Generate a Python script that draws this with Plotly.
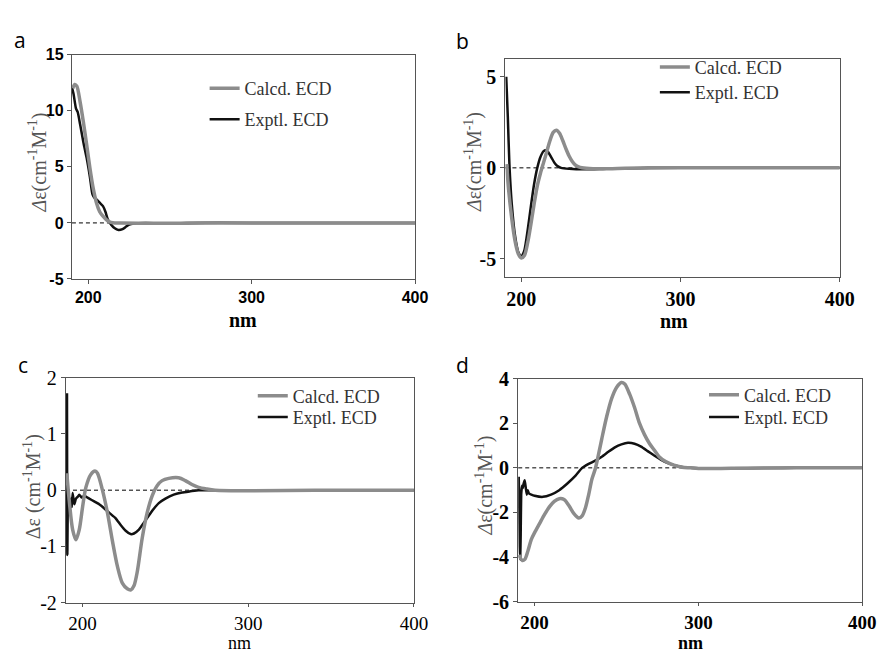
import plotly.graph_objects as go

# Panel a
a_calc_x = [190.5, 191.7, 193, 195, 197, 199, 201, 203, 205, 207, 209, 211, 213, 215, 220, 240, 260, 280, 320, 360, 400]
a_calc_y = [12.0, 12.35, 12.2, 10.8, 9.0, 7.0, 4.9, 3.1, 1.8, 1.0, 0.6, 0.3, 0.1, 0.02, 0.0, -0.03, -0.02, 0.0, 0.0, 0.0, 0.0]
a_exp_x = [190, 191, 192.5, 193.5, 195, 197, 199, 201, 202.5, 203.5, 205, 207, 209, 210.5, 212, 214, 216, 218.5, 221, 223, 225, 228, 235, 250, 260, 300, 350, 400]
a_exp_y = [12.1, 11.5, 10.2, 9.9, 8.8, 7.2, 5.8, 4.1, 2.6, 2.3, 2.1, 1.8, 1.5, 1.0, 0.3, -0.15, -0.45, -0.63, -0.55, -0.35, -0.15, -0.05, 0.0, -0.05, 0.0, 0.0, 0.0, 0.0]

# Panel b
b_calc_x = [190.8, 192, 194, 196, 198, 200, 202, 204, 206, 208, 210, 212, 214, 216, 218, 220, 222, 224, 226, 228, 230, 232, 234, 236, 238, 245, 255, 265, 280, 320, 360, 400]
b_calc_y = [0.2, -1.2, -2.8, -4.0, -4.7, -4.95, -4.8, -4.1, -3.1, -2.0, -1.0, -0.3, 0.3, 0.9, 1.5, 1.95, 2.07, 1.9, 1.5, 1.05, 0.65, 0.35, 0.15, 0.05, 0.0, -0.05, -0.05, -0.02, 0.0, 0.0, 0.0, 0.0]
b_exp_x = [190.5, 191.5, 192.5, 194, 196, 198, 200, 202, 204, 206, 208, 210, 212, 214, 215.5, 217, 219, 221, 223, 225, 230, 240, 250, 260, 300, 350, 400]
b_exp_y = [5.0, 2.8, 0.2, -2.0, -3.7, -4.6, -4.9, -4.5, -3.4, -2.1, -0.9, 0.0, 0.6, 0.92, 0.96, 0.85, 0.55, 0.25, 0.08, 0.0, -0.05, -0.08, -0.06, -0.03, 0.0, 0.0, 0.0]

# Panel c
c_calc_x = [190.5, 192, 194, 196, 198, 200, 202, 205, 207.5, 209, 212, 215, 218, 221, 224, 227, 229.2, 231, 233, 236, 239, 242, 245, 248, 252, 258, 262, 266, 270, 275, 280, 300, 340, 400]
c_calc_y = [0.3, -0.2, -0.7, -0.88, -0.7, -0.3, 0.05, 0.28, 0.34, 0.3, 0.0, -0.4, -0.9, -1.35, -1.65, -1.75, -1.77, -1.7, -1.45, -0.85, -0.4, -0.1, 0.08, 0.17, 0.21, 0.22, 0.17, 0.1, 0.05, 0.02, 0.0, -0.01, 0.0, 0.0]
c_exp_x = [190.6, 190.8, 191.2, 192, 193, 193.5, 194, 195, 196, 197, 198, 199.4, 201, 204, 207, 210, 213, 216, 220, 223, 226, 229, 231, 234, 237, 240, 243, 246, 250, 255, 260, 265, 270, 280, 300, 340, 400]
c_exp_y = [1.72, -1.15, 0.0, -0.25, -0.15, -0.3, -0.05, -0.25, -0.15, -0.12, -0.08, -0.13, -0.1, -0.15, -0.2, -0.25, -0.32, -0.4, -0.5, -0.62, -0.72, -0.78, -0.77, -0.7, -0.58, -0.45, -0.33, -0.23, -0.15, -0.08, -0.04, -0.02, 0.0, 0.0, 0.0, 0.0, 0.0]

# Panel d
d_calc_x = [190.4, 192.5, 194, 196, 198, 200, 203, 206, 209, 212, 215, 218, 221, 224, 227, 229, 231, 233, 235, 237, 239, 241, 244, 247, 250, 253, 255, 258, 261, 264, 267, 270, 273, 276, 280, 285, 290, 295, 300, 320, 340, 360, 400]
d_calc_y = [-3.9, -4.15, -4.1, -3.7, -3.2, -2.9, -2.5, -2.1, -1.75, -1.5, -1.38, -1.42, -1.7, -2.05, -2.25, -2.15, -1.8, -1.2, -0.5, -0.05, 0.6, 1.3, 2.3, 3.1, 3.6, 3.82, 3.75, 3.3, 2.7, 2.0, 1.5, 1.1, 0.8, 0.5, 0.28, 0.12, 0.03, 0.0, -0.03, -0.02, -0.01, 0.0, 0.0]
d_exp_x = [190.3, 190.6, 190.9, 191.2, 191.5, 191.8, 192.3, 192.8, 193.3, 194, 194.6, 195.2, 195.8, 196.5, 198, 200, 205, 210, 215, 220, 225, 229, 233, 237, 241, 245, 249, 253, 257, 261, 265, 269, 273, 277, 281, 285, 290, 295, 300, 320, 360, 400]
d_exp_y = [-0.4, -1.5, -3.5, -4.1, -3.0, -1.2, -0.8, -0.9, -0.7, -0.55, -0.9, -1.2, -1.0, -1.15, -1.2, -1.25, -1.3, -1.2, -1.0, -0.7, -0.35, 0.0, 0.18, 0.32, 0.5, 0.72, 0.92, 1.05, 1.12, 1.08, 0.95, 0.75, 0.55, 0.37, 0.22, 0.12, 0.04, 0.0, -0.02, -0.02, 0.0, 0.0]

x_ticks = [200, 300, 400]
a_yticks = [-5, 0, 5, 10, 15]
b_yticks = [-5, 0, 5]
c_yticks = [-2, -1, 0, 1, 2]
d_yticks = [-6, -4, -2, 0, 2, 4]

serif = 'Liberation Serif'
sans = 'Liberation Sans'

panels = [
    dict(letter='a', calc=(a_calc_x, a_calc_y), exp=(a_exp_x, a_exp_y), yr=[-5, 15], yt=a_yticks,
         dx=[0.0734, 0.4673], dy=[0.5906, 0.9437],
         tf=dict(family=sans, size=16, color='black'), xtf=16, xtl=4, bold=True, espline=0.6,
         yt_title='<i>Δ</i>ε(cm<sup>-1</sup>M<sup>-1</sup>)', ytpos=(30, 148), xtpos=(239, 311, 20),
         lab=(12, 22), leg=(200, 72, 32)),
    dict(letter='b', calc=(b_calc_x, b_calc_y), exp=(b_exp_x, b_exp_y), yr=[-6, 6], yt=b_yticks,
         dx=[0.5711, 0.9549], dy=[0.5936, 0.9376],
         tf=dict(family=serif, size=20, color='black'), xtf=20, xtl=4, bold=True, espline=0.6,
         yt_title='<i>Δ</i>ε(cm<sup>-1</sup>M<sup>-1</sup>)', ytpos=(473, 148), xtpos=(677, 312, 20),
         lab=(462, 23), leg=(658, 50, 26)),
    dict(letter='c', calc=(c_calc_x, c_calc_y), exp=(c_exp_x, c_exp_y), yr=[-2, 2], yt=c_yticks,
         dx=[0.0666, 0.4661], dy=[0.0807, 0.4353],
         tf=dict(family=serif, size=20, color='black'), xtf=19, xtl=3, bold=False, espline=0.3,
         yt_title='Δε (cm<sup>-1</sup>M<sup>-1</sup>)', ytpos=(25, 484), xtpos=(235, 646, 18),
         lab=(15, 358), leg=(249, 390, 22)),
    dict(letter='d', calc=(d_calc_x, d_calc_y), exp=(d_exp_x, d_exp_y), yr=[-6, 4], yt=d_yticks,
         dx=[0.5858, 0.9808], dy=[0.0822, 0.4338],
         tf=dict(family=serif, size=20, color='black'), xtf=19, xtl=3, bold=True, espline=0.3,
         yt_title='<i>Δ</i>ε(cm<sup>-1</sup>M<sup>-1</sup>)', ytpos=(485, 483), xtpos=(694, 646, 18),
         lab=(462, 358), leg=(708, 389, 23)),
]

W, H = 886, 657
fig = go.Figure()
layout = dict(width=W, height=H, margin=dict(l=0, r=0, t=0, b=0),
              paper_bgcolor='white', plot_bgcolor='white', showlegend=True,
              annotations=[], shapes=[])

leg_font = dict(family=serif, size=18, color='#333333')

for i, p in enumerate(panels):
    n = i + 1
    xa = 'x' if n == 1 else 'x%d' % n
    ya = 'y' if n == 1 else 'y%d' % n
    lg_e = 'legend' if n == 1 else 'legend%d' % (2 * n - 1)
    lg_c = 'legend%d' % (2 * n)

    # experimental first, calculated drawn on top
    fig.add_trace(go.Scatter(x=p['exp'][0], y=p['exp'][1], mode='lines', name='Exptl. ECD',
                             line=dict(color='#111111', width=2.5, shape='spline', smoothing=p['espline']),
                             xaxis=xa, yaxis=ya, legend=lg_e))
    fig.add_trace(go.Scatter(x=p['calc'][0], y=p['calc'][1], mode='lines', name='Calcd. ECD',
                             line=dict(color='#8c8c8c', width=3.5, shape='spline', smoothing=0.8),
                             xaxis=xa, yaxis=ya, legend=lg_c))

    lx, ly, gap = p['leg']
    for name, yy in ((lg_c, ly), (lg_e, ly + gap)):
        layout[name] = dict(x=lx / W, y=1 - yy / H, xanchor='left', yanchor='middle',
                            font=leg_font, bgcolor='rgba(0,0,0,0)', borderwidth=0,
                            itemwidth=30)

    tf = p['tf']
    fmt = (lambda v: '<b>%d</b>' % v) if p['bold'] else (lambda v: '%d' % v)
    xkey = 'xaxis' if n == 1 else 'xaxis%d' % n
    ykey = 'yaxis' if n == 1 else 'yaxis%d' % n
    layout[xkey] = dict(domain=p['dx'], anchor=ya, range=[190, 400],
                        tickvals=x_ticks, ticktext=[fmt(v) for v in x_ticks],
                        tickfont=dict(tf, size=p['xtf']), ticks='outside', ticklen=p['xtl'],
                        tickcolor='#555555',
                        showline=True, linecolor='#555555', linewidth=1.3, mirror=True,
                        showgrid=False, zeroline=False)
    layout[ykey] = dict(domain=p['dy'], anchor=xa, range=p['yr'],
                        tickvals=p['yt'], ticktext=[fmt(v) for v in p['yt']],
                        tickfont=tf, ticks='outside', ticklen=4, tickcolor='#555555',
                        showline=True, linecolor='#555555', linewidth=1.3, mirror=True,
                        showgrid=False, zeroline=False)

    # axis titles
    layout['annotations'].append(dict(text=p['yt_title'], textangle=-90,
                                      x=p['ytpos'][0] / W, y=1 - p['ytpos'][1] / H,
                                      xref='paper', yref='paper', xanchor='center', yanchor='middle',
                                      showarrow=False, font=dict(family=serif, size=20, color='#555555')))
    layout['annotations'].append(dict(text='<b>nm</b>' if p['bold'] else 'nm',
                                      x=p['xtpos'][0] / W, y=1 - p['xtpos'][1] / H,
                                      xref='paper', yref='paper', xanchor='center', yanchor='middle',
                                      showarrow=False,
                                      font=dict(family=serif, size=p['xtpos'][2], color='black')))

    layout['shapes'].append(dict(type='line', xref='%s domain' % xa, yref=ya, x0=0, x1=1, y0=0, y1=0,
                                 line=dict(color='black', width=1, dash='4px,3px'), layer='below'))
    layout['annotations'].append(dict(text=p['letter'], x=p['lab'][0] / W, y=1 - p['lab'][1] / H,
                                      xref='paper', yref='paper', xanchor='center', yanchor='middle',
                                      showarrow=False,
                                      font=dict(family='Open Sans', size=21, color='black')))

fig.update_layout(**layout)
fig.write_html("out.html")
